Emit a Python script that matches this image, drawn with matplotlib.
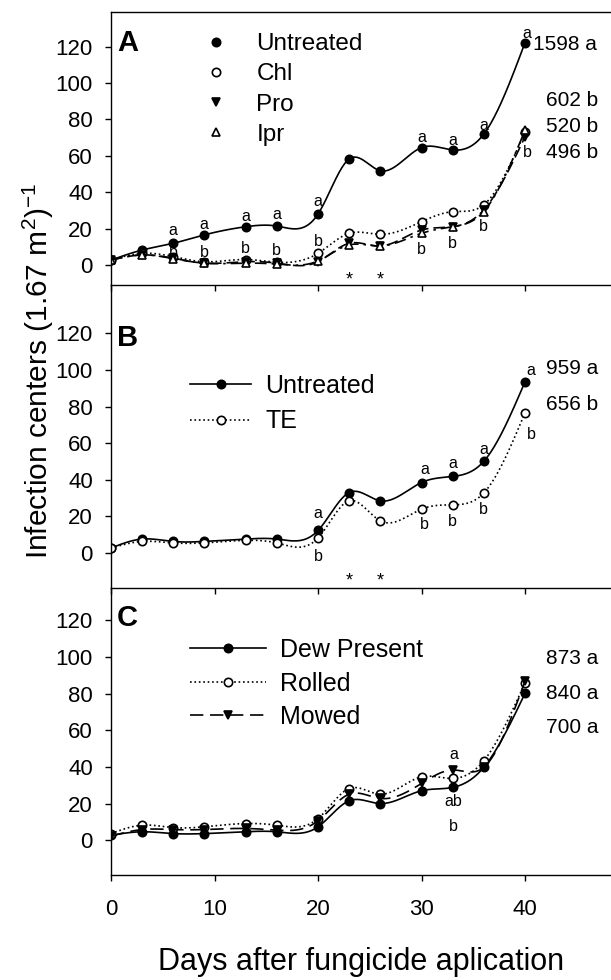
import numpy as np
import matplotlib
matplotlib.use("Agg")
import matplotlib.pyplot as plt
from matplotlib.lines import Line2D

plt.rcParams['font.family'] = ['Liberation Sans', 'DejaVu Sans']
plt.rcParams['mathtext.default'] = 'regular'

# ---------------- data ----------------
days = [0, 3, 6, 9, 13, 16, 20, 23, 26, 30, 33, 36, 40]

A_untreated = [2.7, 8.2, 11.9, 16.5, 21.0, 21.4, 28.0, 58.2, 51.8, 64.5, 63.2, 71.8, 122.2]
A_chl       = [2.7, 6.4, 4.6, 1.8, 3.0, 1.5, 6.4, 17.4, 16.8, 23.8, 29.3, 33.0, 73.0]
A_pro       = [2.7, 5.5, 3.7, 1.0, 1.8, 1.0, 1.8, 11.9, 10.4, 19.2, 21.0, 30.2, 70.5]
A_ipr       = [2.7, 5.5, 3.5, 1.0, 1.0, 0.5, 2.2, 11.0, 10.4, 17.4, 21.0, 29.3, 74.0]

B_untreated = [2.7, 7.6, 6.3, 6.3, 7.6, 7.6, 12.3, 33.0, 28.5, 38.5, 41.8, 50.0, 93.6]
B_te        = [2.7, 6.3, 5.5, 5.5, 6.9, 5.5, 8.2, 28.5, 17.6, 24.0, 26.3, 32.7, 76.7]

C_dew       = [2.7, 4.6, 3.6, 3.6, 4.6, 4.6, 7.3, 21.5, 20.0, 27.0, 28.8, 39.7, 80.2]
C_rolled    = [3.6, 8.2, 6.9, 7.3, 9.1, 8.2, 11.8, 28.2, 25.1, 34.6, 33.7, 43.3, 86.0]
C_mowed     = [2.2, 5.8, 5.8, 5.8, 6.4, 5.5, 10.6, 25.1, 22.8, 31.0, 38.3, 39.7, 86.9]

A_labels = ["Untreated", "Chl", "Pro", "Ipr"]
B_labels = ["Untreated", "TE"]
C_labels = ["Dew Present", "Rolled", "Mowed"]

A_totals = ["1598 a", "602 b", "520 b", "496 b"]
B_totals = ["959 a", "656 b"]
C_totals = ["873 a", "840 a", "700 a"]

# significance letters (day, text, y)
A_letters_x = [6, 9, 13, 16, 20, 30, 33, 36, 40.2]
A_a_y = [18.7, 22.0, 26.9, 28.0, 34.8, 70.2, 68.3, 76.4, 127.3]
A_b_y = [7.1, 6.6, 9.3, 7.7, 12.8, 8.6, 11.9, 21.4, 61.7]
B_letters_x = [20, 30.3, 33, 36, 40.6]
B_a_y = [21.8, 45.8, 48.7, 56.4, 99.6]
B_b_y = [-1.8, 15.4, 17.2, 23.6, 64.5]
C_letters_x = [33.1, 33.1, 33.1]
C_letters = ["a", "ab", "b"]
C_letters_y = [47.0, 20.9, 7.3]
star_days = [23, 26]

y_ticks = [0, 20, 40, 60, 80, 100, 120]
x_ticks = [0, 10, 20, 30, 40]


def natural_spline(x, y, n=500):
    x = np.asarray(x, float)
    y = np.asarray(y, float)
    m = len(x)
    h = np.diff(x)
    A = np.zeros((m, m))
    r = np.zeros(m)
    A[0, 0] = 1
    A[-1, -1] = 1
    for i in range(1, m - 1):
        A[i, i - 1] = h[i - 1]
        A[i, i] = 2 * (h[i - 1] + h[i])
        A[i, i + 1] = h[i]
        r[i] = 6 * ((y[i + 1] - y[i]) / h[i] - (y[i] - y[i - 1]) / h[i - 1])
    M = np.linalg.solve(A, r)
    xs = np.linspace(x[0], x[-1], n)
    idx = np.clip(np.searchsorted(x, xs) - 1, 0, m - 2)
    x0 = x[idx]; x1 = x[idx + 1]; hh = x1 - x0
    t0 = x1 - xs; t1 = xs - x0
    ys = (M[idx] * t0 ** 3 / (6 * hh) + M[idx + 1] * t1 ** 3 / (6 * hh)
          + (y[idx] / hh - M[idx] * hh / 6) * t0
          + (y[idx + 1] / hh - M[idx + 1] * hh / 6) * t1)
    return xs, ys


W, H = 611, 980
fig = plt.figure(figsize=(W / 100, H / 100), dpi=100)


def px_axes(top, bottom, left=111, right=611):
    return fig.add_axes([left / W, 1 - bottom / H, (right - left) / W, (bottom - top) / H])


axA = px_axes(12.3, 285)
axB = px_axes(285, 588.3)
axC = px_axes(588.3, 875)

ylims = [(-11, 138.8), (-19.3, 146.4), (-19, 137.5)]
for ax, yl in zip([axA, axB, axC], ylims):
    ax.set_xlim(0, 48.3)
    ax.set_ylim(*yl)
    ax.spines['right'].set_visible(False)
    for s in ax.spines.values():
        s.set_linewidth(1.0)
    ax.set_yticks(y_ticks)
    ax.set_xticks(x_ticks)
    ax.tick_params(direction='out', length=4, width=1.0, labelsize=16, pad=9)
    ax.patch.set_alpha(0)
axB.spines['top'].set_visible(False)
axC.spines['top'].set_visible(False)
axA.tick_params(axis='x', labelbottom=False)
axB.tick_params(axis='x', labelbottom=False)
axC.tick_params(axis='x', pad=13)

lw = 1.2
ms = 6


def series(ax, y, ls, marker, mfc, dashes=None, msize=ms):
    xs, ys = natural_spline(days, y)
    line, = ax.plot(xs, ys, color='black', lw=lw, ls=ls)
    if dashes is not None:
        line.set_dashes(dashes)
    ax.plot(days, y, ls='none', marker=marker, ms=msize, mfc=mfc, mec='black', mew=1.2)
    h = Line2D([], [], color='black', lw=lw, ls=ls, marker=marker, ms=msize,
               mfc=mfc, mec='black', mew=1.2)
    if dashes is not None:
        h.set_dashes(dashes)
    return h

# ---- Panel A ----
hA = [series(axA, A_untreated, '-', 'o', 'black'),
      series(axA, A_chl, ':', 'o', 'white'),
      series(axA, A_pro, '--', 'v', 'black', dashes=(7, 3)),
      series(axA, A_ipr, '-.', '^', 'white', dashes=(7, 3, 1.5, 3))]
legA_handles = [Line2D([], [], ls='none', marker=h.get_marker(), ms=ms, mfc=h.get_markerfacecolor(),
                       mec='black', mew=1.2) for h in hA]
axA.legend(legA_handles, A_labels, loc='upper left',
           bbox_to_anchor=(204 / W, 1 - 33 / H), bbox_transform=fig.transFigure,
           frameon=False, fontsize=17.5, handlelength=1.0, handletextpad=1.15,
           labelspacing=0.34, borderpad=0, borderaxespad=0)

for x, ya, yb in zip(A_letters_x, A_a_y, A_b_y):
    axA.text(x, ya, "a", ha='center', va='center', fontsize=11.5)
    axA.text(x, yb, "b", ha='center', va='center', fontsize=11.5)
for d in star_days:
    axA.text(d, -8.0, "*", ha='center', va='center', fontsize=13)

# ---- Panel B ----
hB = [series(axB, B_untreated, '-', 'o', 'black'),
      series(axB, B_te, ':', 'o', 'white')]
axB.legend(hB, B_labels, loc='upper left',
           bbox_to_anchor=(190 / W, 1 - 374 / H), bbox_transform=fig.transFigure,
           frameon=False, fontsize=18, handlelength=2.45, handletextpad=0.55,
           labelspacing=0.45, borderpad=0, borderaxespad=0)
for x, ya, yb in zip(B_letters_x, B_a_y, B_b_y):
    axB.text(x, ya, "a", ha='center', va='center', fontsize=11.5)
    axB.text(x, yb, "b", ha='center', va='center', fontsize=11.5)
for d in star_days:
    axB.text(d, -15.5, "*", ha='center', va='center', fontsize=13)

# ---- Panel C ----
hC = [series(axC, C_dew, '-', 'o', 'black'),
      series(axC, C_rolled, ':', 'o', 'white'),
      series(axC, C_mowed, '--', 'v', 'black', dashes=(8, 4))]
axC.legend(hC, C_labels, loc='upper left',
           bbox_to_anchor=(190 / W, 1 - 638 / H), bbox_transform=fig.transFigure,
           frameon=False, fontsize=18, handlelength=3.05, handletextpad=0.56,
           labelspacing=0.38, borderpad=0, borderaxespad=0)
for x, t, y in zip(C_letters_x, C_letters, C_letters_y):
    axC.text(x, y, t, ha='center', va='center', fontsize=11.5)

# ---- totals at right ----
def totals(texts, ys_px, x_px=546):
    for t, y in zip(texts, ys_px):
        fig.text(x_px / W, 1 - y / H, t, ha='left', va='center', fontsize=15)

totals(A_totals[:1], [45], x_px=533)
totals(A_totals[1:], [100, 126, 152])
totals(B_totals, [368, 405])
totals(C_totals, [659, 693, 727])

# ---- panel letters ----
for lab, y in zip(["A", "B", "C"], [43, 338, 618]):
    fig.text(117 / W, 1 - y / H, lab, ha='left', va='center', fontsize=21, fontweight='bold')

# ---- axis labels ----
fig.text(361.5 / W, 1 - 962 / H, "Days after fungicide aplication", ha='center', va='center',
         fontsize=22)
fig.text(38 / W, 1 - 371 / H, "Infection centers (1.67 m$^{2}$)$^{-1}$", rotation=90,
         ha='center', va='center', fontsize=21.5)

fig.savefig("out.png", dpi=100)
